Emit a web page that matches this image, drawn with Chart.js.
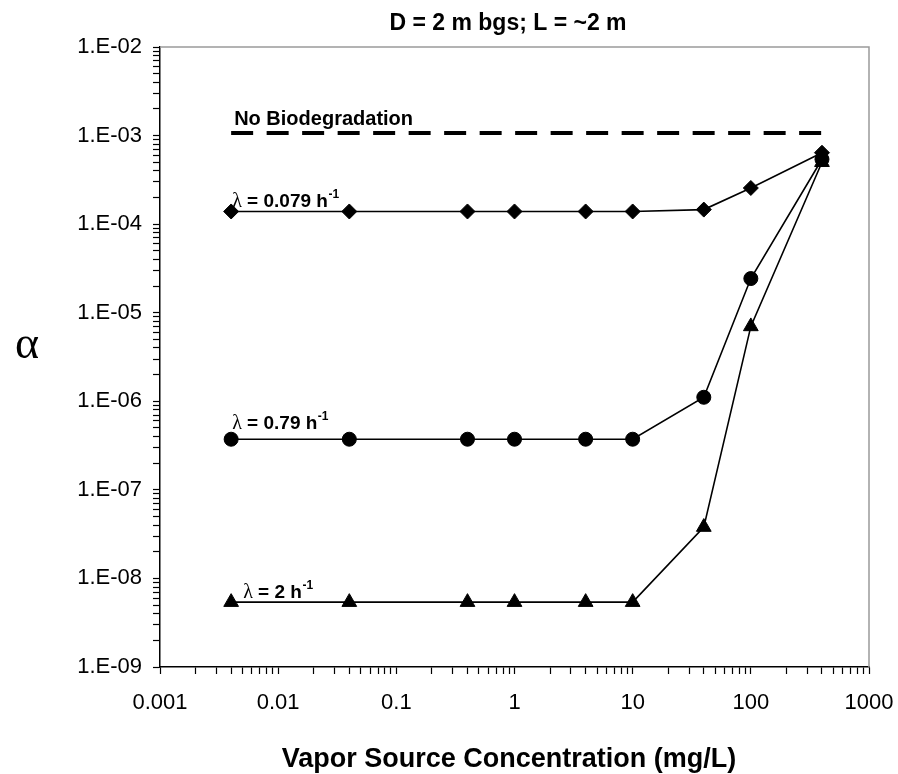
<!DOCTYPE html>
<html>
<head>
<meta charset="utf-8">
<title>Attenuation factor vs. vapor source concentration</title>
<script src="https://cdn.jsdelivr.net/npm/chart.js@4.4.1/dist/chart.umd.min.js"></script>
<style>
  html, body { margin: 0; padding: 0; background: #fff; }
  #wrap { width: 898px; height: 774px; }
</style>
</head>
<body>
<div id="wrap"><canvas id="alpha-chart" width="898" height="774"></canvas></div>
<script>
// --- Data ---
const concentrations = [0.004, 0.04, 0.4, 1, 4, 10, 40, 100, 400];   // mg/L
const alphaLambda0079 = [1.39e-4, 1.39e-4, 1.39e-4, 1.39e-4, 1.39e-4, 1.39e-4, 1.46e-4, 2.56e-4, 6.4e-4];
const alphaLambda079 = [3.73e-7, 3.73e-7, 3.73e-7, 3.73e-7, 3.73e-7, 3.73e-7, 1.11e-6, 2.43e-5, 5.4e-4];
const alphaLambda2 = [5.4e-9, 5.4e-9, 5.4e-9, 5.4e-9, 5.4e-9, 5.4e-9, 3.8e-8, 7.0e-6, 5.0e-4];
const lambdaValues = ['0.079', '0.79', '2'];   // h^-1

const noBioConc = [0.004, 400];
const noBioAlpha = [1.07e-3, 1.07e-3];

const xTickValues = [0.001, 0.01, 0.1, 1, 10, 100, 1000];
const xTickLabels = ['0.001', '0.01', '0.1', '1', '10', '100', '1000'];
const yTickValues = [1e-9, 1e-8, 1e-7, 1e-6, 1e-5, 1e-4, 1e-3, 1e-2];
const yTickLabels = ['1.E-09', '1.E-08', '1.E-07', '1.E-06', '1.E-05', '1.E-04', '1.E-03', '1.E-02'];

const SANS = '"Liberation Sans", Arial, Helvetica, sans-serif';
const SERIF = '"Liberation Serif", "Times New Roman", serif';

const toPoints = (xs, ys) => xs.map((x, i) => ({ x: x, y: ys[i] }));

// decade ticks plus the 2..9 minor marks in between
function logTicks(decades) {
    const ticks = [];
    for (let i = 0; i < decades.length - 1; i++) {
        for (let k = 1; k <= 9; k++) ticks.push({ value: decades[i] * k });
    }
    ticks.push({ value: decades[decades.length - 1] });
    return ticks;
}

function labelFor(value, values, labels) {
    const idx = values.findIndex(v => Math.abs(Math.log10(v) - Math.log10(value)) < 1e-6);
    return idx >= 0 ? labels[idx] : '';
}

function seriesStyle(pointStyle, radius) {
    return {
        showLine: true,
        borderColor: '#000',
        borderWidth: 1.6,
        pointStyle: pointStyle,
        pointRadius: radius,
        pointBackgroundColor: '#000',
        pointBorderColor: '#000',
        pointBorderWidth: 1,
        tension: 0
    };
}

// --- Text annotations: title, axis titles and curve labels ---
function drawLambda(ctx, x0, y0, value) {
    ctx.textAlign = 'left';
    ctx.textBaseline = 'alphabetic';
    ctx.font = '20px ' + SERIF;
    ctx.fillText('λ', x0, y0);
    let x = x0 + ctx.measureText('λ').width;
    const main = ' = ' + value + ' h';
    ctx.font = 'bold 19px ' + SANS;
    ctx.fillText(main, x, y0);
    x += ctx.measureText(main).width;
    ctx.font = 'bold 12px ' + SANS;
    ctx.fillText('-1', x + 0.5, y0 - 9);
}

const annotationPlugin = {
    id: 'annotations',
    afterDraw(chart) {
        const { ctx, chartArea, scales } = chart;
        const xs = scales.x, ys = scales.y;
        ctx.save();

        // grey frame on top and right
        ctx.strokeStyle = '#9a9a9a';
        ctx.lineWidth = 1.5;
        ctx.beginPath();
        ctx.moveTo(chartArea.left, chartArea.top);
        ctx.lineTo(chartArea.right, chartArea.top);
        ctx.lineTo(chartArea.right, chartArea.bottom);
        ctx.stroke();

        ctx.fillStyle = '#000';
        ctx.textAlign = 'center';
        ctx.textBaseline = 'alphabetic';
        ctx.font = 'bold 23px ' + SANS;
        ctx.fillText('D = 2 m bgs; L = ~2 m', 508, 30);

        ctx.font = 'bold 27px ' + SANS;
        ctx.fillText('Vapor Source Concentration (mg/L)', 509, 767);

        ctx.font = '46px ' + SERIF;
        ctx.textBaseline = 'middle';
        ctx.fillText('α', 27, 346);

        // label above the no-biodegradation line
        ctx.textAlign = 'left';
        ctx.textBaseline = 'alphabetic';
        ctx.font = 'bold 20px ' + SANS;
        ctx.fillText('No Biodegradation', xs.getPixelForValue(noBioConc[0]) + 3, ys.getPixelForValue(noBioAlpha[0]) - 8);

        // lambda labels sit just above the first point of each curve
        const firstValues = [alphaLambda0079[0], alphaLambda079[0], alphaLambda2[0]];
        const offsets = [[1, -4], [1, -10], [12, -4]];
        firstValues.forEach((v, i) => {
            const px = xs.getPixelForValue(concentrations[0]) + offsets[i][0];
            const py = ys.getPixelForValue(v) + offsets[i][1];
            drawLambda(ctx, px, py, lambdaValues[i]);
        });
        ctx.restore();
    }
};

// --- Chart ---
const ctx = document.getElementById('alpha-chart').getContext('2d');
const chart = new Chart(ctx, {
    type: 'scatter',
    data: {
        datasets: [
            Object.assign(seriesStyle('rectRot', 7.5), { label: 'λ = 0.079 h-1', data: toPoints(concentrations, alphaLambda0079) }),
            Object.assign(seriesStyle('circle', 7), { label: 'λ = 0.79 h-1', data: toPoints(concentrations, alphaLambda079) }),
            Object.assign(seriesStyle('triangle', 8.5), { label: 'λ = 2 h-1', data: toPoints(concentrations, alphaLambda2) }),
            {
                label: 'No Biodegradation',
                data: toPoints(noBioConc, noBioAlpha),
                showLine: true,
                borderColor: '#000',
                borderWidth: 4,
                borderDash: [22, 13.5],
                pointRadius: 0
            }
        ]
    },
    options: {
        responsive: false,
        animation: false,
        layout: { padding: { top: 47, right: 29, left: 0, bottom: 0 } },
        plugins: {
            legend: { display: false },
            tooltip: { enabled: false }
        },
        scales: {
            x: {
                type: 'logarithmic',
                min: 0.001,
                max: 1000,
                border: { display: true, color: '#000', width: 1.5 },
                grid: { drawOnChartArea: false, drawTicks: true, tickLength: 7, tickColor: '#000', tickWidth: 1.2 },
                afterBuildTicks: scale => { scale.ticks = logTicks(xTickValues); },
                afterFit: scale => {
                    scale.height = 107;
                    scale.paddingLeft = 0;
                    scale.paddingRight = 0;
                },
                ticks: {
                    autoSkip: false,
                    maxRotation: 0,
                    padding: 16,
                    color: '#000',
                    font: { family: SANS, size: 22 },
                    callback: value => labelFor(value, xTickValues, xTickLabels)
                }
            },
            y: {
                type: 'logarithmic',
                min: 1e-9,
                max: 1e-2,
                border: { display: true, color: '#000', width: 1.5 },
                grid: { drawOnChartArea: false, drawTicks: true, tickLength: 7, tickColor: '#000', tickWidth: 1.2 },
                afterBuildTicks: scale => { scale.ticks = logTicks(yTickValues); },
                afterFit: scale => {
                    scale.width = 160;
                    scale.paddingTop = 0;
                    scale.paddingBottom = 0;
                },
                ticks: {
                    autoSkip: false,
                    padding: 11,
                    color: '#000',
                    font: { family: SANS, size: 22 },
                    callback: value => labelFor(value, yTickValues, yTickLabels)
                }
            }
        }
    },
    plugins: [annotationPlugin]
});
</script>
</body>
</html>
